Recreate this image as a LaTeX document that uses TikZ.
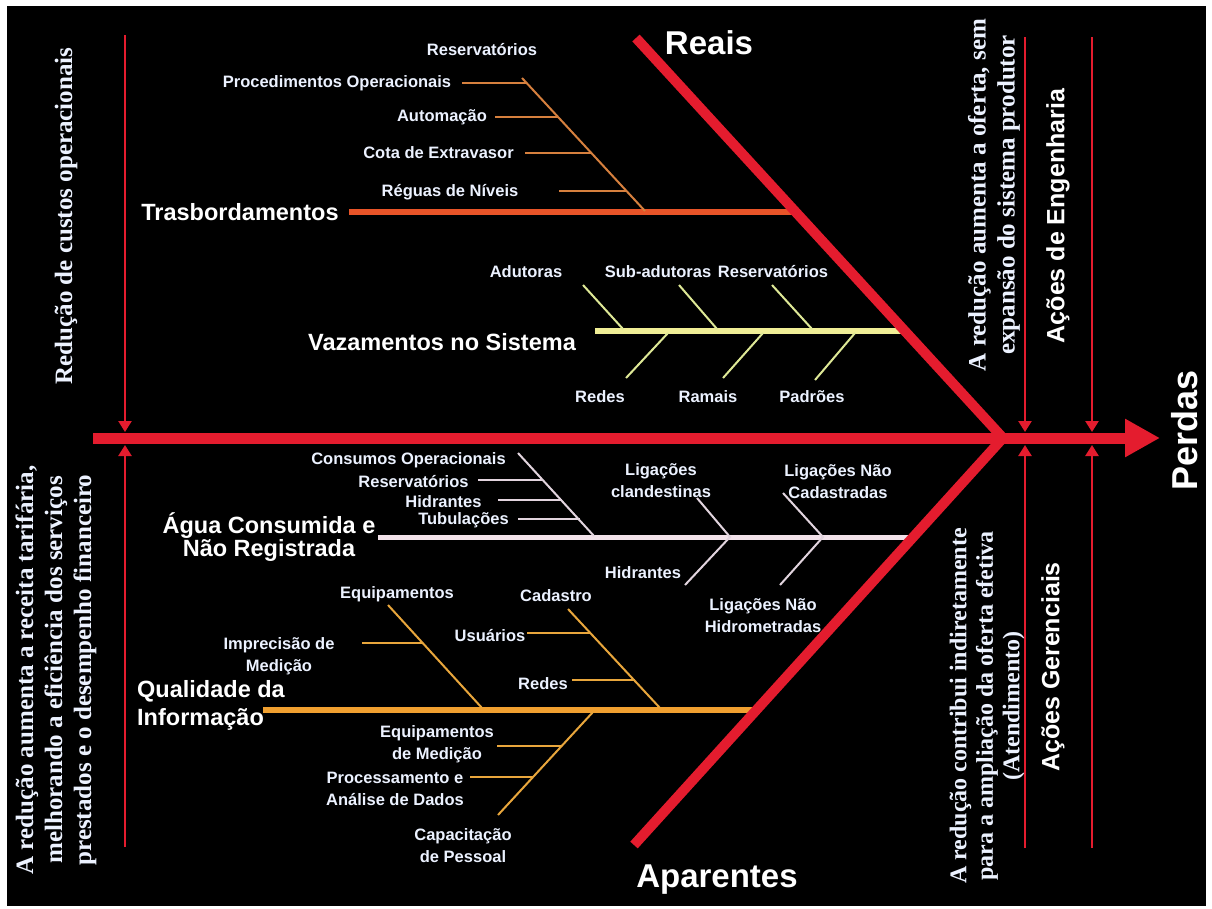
\documentclass[tikz,border=0pt]{standalone}
\usepackage{fontspec}
\setmainfont{Liberation Sans}
\newfontfamily\serifbold{Liberation Serif}[BoldFont={Liberation Serif Bold}]
\usetikzlibrary{arrows.meta}
\definecolor{bred}{RGB}{228,28,46}
\definecolor{ctras}{RGB}{232,84,40}
\definecolor{ctrassub}{RGB}{214,128,62}
\definecolor{cvaz}{RGB}{240,238,150}
\definecolor{cvazsub}{RGB}{222,232,150}
\definecolor{cagua}{RGB}{242,226,234}
\definecolor{caguasub}{RGB}{226,212,222}
\definecolor{cqual}{RGB}{240,160,48}
\definecolor{cqualsub}{RGB}{232,166,60}
\definecolor{txt}{RGB}{236,242,255}
\tikzset{
  lbl/.style={font=\bfseries\fontsize{16.5}{22}\selectfont, text=txt, inner sep=0pt, align=center},
  head/.style={font=\bfseries\fontsize{23.5}{21}\selectfont, text=white, inner sep=0pt, align=center},
  title/.style={font=\bfseries\fontsize{33}{36}\selectfont, text=white, inner sep=0pt},
  rotserif/.style={font=\serifbold\bfseries\fontsize{25}{29}\selectfont, text=txt, inner sep=0pt, align=center, rotate=90},
  rotsans/.style={font=\bfseries\fontsize{25}{29}\selectfont, text=white, inner sep=0pt, rotate=90},
  redthin/.style={draw=bred, line width=2.4pt, -{Triangle[length=11pt,width=13pt]}},
  spineline/.style={draw=bred, line width=11pt, -{Triangle[length=35pt,width=36pt]}},
  boneline/.style={draw=bred, line width=10pt},
  trasline/.style={draw=ctras, line width=6pt},
  trassub/.style={draw=ctrassub, line width=2pt},
  vazline/.style={draw=cvaz, line width=6pt},
  vazsub/.style={draw=cvazsub, line width=2pt},
  agualine/.style={draw=cagua, line width=5pt},
  aguasub/.style={draw=caguasub, line width=2pt},
  qualline/.style={draw=cqual, line width=6pt},
  qualsub/.style={draw=cqualsub, line width=2pt},
}
\begin{document}
\begin{tikzpicture}[x=1pt,y=-1pt]
\useasboundingbox (0,0) rectangle (1212,908);
\fill[white] (0,0) rectangle (1212,908);
\fill[black] (7,6) rectangle (1206,906);

% main geometry
\coordinate (S0) at (93,438);
\coordinate (S1) at (1160,438);
\coordinate (J) at (1003,438);
\coordinate (R0) at (636,38);
\coordinate (A0) at (634,845);

% ---------- Trasbordamentos ----------
\node[head] (tras) at (240,212) {Trasbordamentos};
\coordinate (T0) at (349,212);
\coordinate (T1) at (794,212);
\draw[trasline] (T0) -- (T1);
\coordinate (Ttop) at (522,78);
\coordinate (Tbot) at (645,211);
\draw[trassub] (Ttop) -- (Tbot);
\node[lbl] (tres) at (482,50) {Reservatórios};
\node[lbl] (tproc) at (337,83) {Procedimentos Operacionais};
\node[lbl] (tauto) at (442,117) {Automação};
\node[lbl] (tcota) at (438.5,153) {Cota de Extravasor};
\node[lbl] (treg) at (450,192) {Réguas de Níveis};
\coordinate (tp1) at (462,83);  \coordinate (tp2) at (526,83);
\coordinate (ta1) at (495,117); \coordinate (ta2) at (558,117);
\coordinate (tc1) at (525,153); \coordinate (tc2) at (591,153);
\coordinate (tr1) at (559,191); \coordinate (tr2) at (626,191);
\draw[trassub] (tp1) -- (tp2);
\draw[trassub] (ta1) -- (ta2);
\draw[trassub] (tc1) -- (tc2);
\draw[trassub] (tr1) -- (tr2);

% ---------- Vazamentos no Sistema ----------
\node[head] (vaz) at (442,342) {Vazamentos no Sistema};
\coordinate (V0) at (595,331);
\coordinate (V1) at (907,331);
\draw[vazline] (V0) -- (V1);
\node[lbl] (vadu) at (526,272) {Adutoras};
\node[lbl] (vsub) at (658,272) {Sub-adutoras};
\node[lbl] (vres) at (773,272) {Reservatórios};
\node[lbl] (vred) at (600,397) {Redes};
\node[lbl] (vram) at (708,397) {Ramais};
\node[lbl] (vpad) at (812,397) {Padrões};
\coordinate (va1) at (583,285); \coordinate (va2) at (623,329);
\coordinate (vs1) at (679,285); \coordinate (vs2) at (717,329);
\coordinate (vr1) at (772,285); \coordinate (vr2) at (812,329);
\coordinate (vd1) at (668,333); \coordinate (vd2) at (626,378);
\coordinate (vm1) at (763,333); \coordinate (vm2) at (723,378);
\coordinate (vp1) at (855,333); \coordinate (vp2) at (815,380);
\draw[vazsub] (va1) -- (va2);
\draw[vazsub] (vs1) -- (vs2);
\draw[vazsub] (vr1) -- (vr2);
\draw[vazsub] (vd1) -- (vd2);
\draw[vazsub] (vm1) -- (vm2);
\draw[vazsub] (vp1) -- (vp2);

% ---------- Agua Consumida e Nao Registrada ----------
\node[head] (agua) at (269,537) {Água Consumida e\\Não Registrada};
\coordinate (G0) at (378,537);
\coordinate (G1) at (913,537);
\draw[agualine] (G0) -- (G1);
\coordinate (Gtop) at (518,453);
\coordinate (Gbot) at (594,536);
\draw[aguasub] (Gtop) -- (Gbot);
\node[lbl] (gcons) at (408.5,460) {Consumos Operacionais};
\node[lbl] (gres) at (413.5,482) {Reservatórios};
\node[lbl] (ghid) at (443.5,502) {Hidrantes};
\node[lbl] (gtub) at (463.5,520) {Tubulações};
\coordinate (gr1) at (478,480); \coordinate (gr2) at (543,480);
\coordinate (gh1) at (498,500); \coordinate (gh2) at (562,500);
\coordinate (gt1) at (518,519); \coordinate (gt2) at (580,519);
\draw[aguasub] (gr1) -- (gr2);
\draw[aguasub] (gh1) -- (gh2);
\draw[aguasub] (gt1) -- (gt2);
\node[lbl] (glc) at (661,481) {Ligações\\clandestinas};
\node[lbl] (glnc) at (838,482) {Ligações Não\\Cadastradas};
\node[lbl] (ghid2) at (643,573) {Hidrantes};
\node[lbl] (glnh) at (763,616) {Ligações Não\\Hidrometradas};
\coordinate (gc1) at (697,498); \coordinate (gc2) at (730,537); \coordinate (gc3) at (685,585);
\coordinate (gn1) at (783,493); \coordinate (gn2) at (823,537); \coordinate (gn3) at (780,585);
\draw[aguasub] (gc1) -- (gc2) -- (gc3);
\draw[aguasub] (gn1) -- (gn2) -- (gn3);

% ---------- Qualidade da Informacao ----------
\node[head, align=left, anchor=west, font=\bfseries\fontsize{23.5}{28}\selectfont] (qual) at (137,705) {Qualidade da\\Informação};
\coordinate (Q0) at (263,710);
\coordinate (Q1) at (756,710);
\draw[qualline] (Q0) -- (Q1);
\node[lbl] (qequ) at (397,594) {Equipamentos};
\node[lbl] (qimp) at (279,656) {Imprecisão de\\Medição};
\node[lbl] (qcad) at (556,596) {Cadastro};
\node[lbl] (qusu) at (490,636) {Usuários};
\node[lbl] (qred) at (543,684) {Redes};
\node[lbl] (qeqm) at (437,744) {Equipamentos\\de Medição};
\node[lbl] (qpro) at (395,789) {Processamento e\\Análise de Dados};
\node[lbl] (qcap) at (463,846) {Capacitação\\de Pessoal};
\coordinate (qa1) at (388,605); \coordinate (qa2) at (482,708);
\coordinate (qb1) at (568,609); \coordinate (qb2) at (660,708);
\coordinate (qc1) at (593,712); \coordinate (qc2) at (498,815);
\draw[qualsub] (qa1) -- (qa2);
\draw[qualsub] (qb1) -- (qb2);
\draw[qualsub] (qc1) -- (qc2);
\coordinate (qi1) at (362,643); \coordinate (qi2) at (423,643);
\coordinate (qu1) at (527,633); \coordinate (qu2) at (590,633);
\coordinate (qr1) at (572,680); \coordinate (qr2) at (635,680);
\coordinate (qe1) at (497,746); \coordinate (qe2) at (562,746);
\coordinate (qp1) at (470,777); \coordinate (qp2) at (533,777);
\draw[qualsub] (qi1) -- (qi2);
\draw[qualsub] (qu1) -- (qu2);
\draw[qualsub] (qr1) -- (qr2);
\draw[qualsub] (qe1) -- (qe2);
\draw[qualsub] (qp1) -- (qp2);

% ---------- main bones ----------
\draw[boneline] (R0) -- (J) -- (A0);
\draw[spineline] (S0) -- (S1);
\node[title] (reais) at (709,43) {Reais};
\node[title] (apar) at (717,880) {Aparentes};
\node[title, rotate=90, font=\bfseries\fontsize{36}{38}\selectfont] (perdas) at (1185,430) {Perdas};

% ---------- vertical effect arrows ----------
\coordinate (L1t) at (125,35);   \coordinate (L1u) at (125,432);
\coordinate (L1b) at (125,847);  \coordinate (L1d) at (125,445);
\coordinate (R1t) at (1025,37);  \coordinate (R1u) at (1025,432);
\coordinate (R1b) at (1025,848); \coordinate (R1d) at (1025,445);
\coordinate (R2t) at (1092,37);  \coordinate (R2u) at (1092,432);
\coordinate (R2b) at (1092,848); \coordinate (R2d) at (1092,445);
\draw[redthin] (L1t) -- (L1u);
\draw[redthin] (L1b) -- (L1d);
\draw[redthin] (R1t) -- (R1u);
\draw[redthin] (R1b) -- (R1d);
\draw[redthin] (R2t) -- (R2u);
\draw[redthin] (R2b) -- (R2d);

% ---------- rotated texts ----------
\node[rotserif] (custos) at (66,216) {Redução de custos operacionais};
\node[rotserif] (receita) at (56,670) {A redução aumenta a receita tarifária,\\melhorando a eficiência dos serviços\\prestados e o desempenho financeiro};
\node[rotserif] (oferta) at (994,195) {A redução aumenta a oferta, sem\\expansão do sistema produtor};
\node[rotserif, font=\serifbold\bfseries\fontsize{24}{26.5}\selectfont] (indir) at (987,706) {A redução contribui indiretamente\\para a ampliação da oferta efetiva\\(Atendimento)};
\node[rotsans] (eng) at (1058,216) {Ações de Engenharia};
\node[rotsans] (ger) at (1053,667) {Ações Gerenciais};
\end{tikzpicture}
\end{document}
